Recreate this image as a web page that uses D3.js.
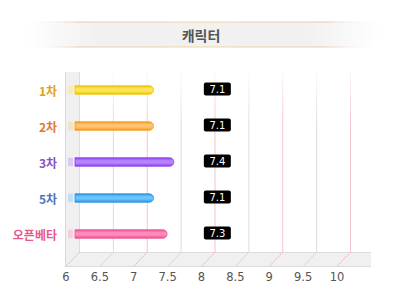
<!DOCTYPE html>
<html><head><meta charset="utf-8">
<script src="https://cdn.jsdelivr.net/npm/d3@7"></script>
<style>
html,body{margin:0;padding:0;background:#fff;}
svg{display:block;}
</style></head>
<body>
<script>
const title = "캐릭터";
const categories = ["1차", "2차", "3차", "5차", "오픈베타"];
const values = [7.1, 7.1, 7.4, 7.1, 7.3];
const valueLabels = ["7.1", "7.1", "7.4", "7.1", "7.3"];
const tickValues = [6, 6.5, 7, 7.5, 8, 8.5, 9, 9.5, 10];
const tickLabels = ["6", "6.5", "7", "7.5", "8", "8.5", "9", "9.5", "10"];
const labelColors = ["#e2a012", "#e07a32", "#8a52c2", "#5272b8", "#e8588e"];
const barDark = ["#f0c400", "#f59a1e", "#8c40ee", "#2a94e4", "#ee5090"];
const barLight = ["#ffe55a", "#ffc470", "#b784ff", "#6cc4ff", "#ff8cbc"];

const W = 400, H = 299;
const svg = d3.select("body").append("svg").attr("width", W).attr("height", H);
const defs = svg.append("defs");

// geometry
const depthX = 13, depthY = 14;
const floorFront = 266, floorBack = floorFront - depthY;
const wallTop = 72;
const xFront = d3.scaleLinear().domain([6, 10]).range([66, 337]);
const xBack = v => xFront(v) + depthX;
const y = d3.scaleBand().domain(categories).range([wallTop, floorBack]);
const yc = c => y(c) + y.bandwidth() / 2;

// ---- title band ----
const tg = defs.append("linearGradient").attr("id", "tband");
[[0, "#fff"], [0.2, "#f1f1f1"], [0.8, "#f1f1f1"], [1, "#fff"]].forEach(s =>
  tg.append("stop").attr("offset", s[0]).attr("stop-color", s[1]));
const tl = defs.append("linearGradient").attr("id", "tline");
[[0, "#fff", 0], [0.15, "#ecc8b8", 1], [0.5, "#f2d69c", 1], [0.85, "#ecc8b8", 1], [1, "#fff", 0]].forEach(s =>
  tl.append("stop").attr("offset", s[0]).attr("stop-color", s[1]).attr("stop-opacity", s[2]));
svg.append("rect").attr("x", 25).attr("y", 22).attr("width", 355).attr("height", 25).attr("fill", "url(#tband)");
svg.append("rect").attr("x", 25).attr("y", 21.5).attr("width", 355).attr("height", 1).attr("fill", "url(#tline)");
svg.append("rect").attr("x", 25).attr("y", 46.5).attr("width", 355).attr("height", 1).attr("fill", "url(#tline)");
svg.append("text").attr("x", 201).attr("y", 35).attr("text-anchor", "middle").attr("dominant-baseline", "central")
  .attr("font-family", "'Noto Sans CJK KR', sans-serif").attr("font-weight", "bold").attr("font-size", 14)
  .attr("fill", "#555").text(title);

// ---- walls ----
svg.append("rect").attr("x", xFront(6)).attr("y", floorBack).attr("width", 305).attr("height", depthY).attr("fill", "#f0f0f0");
svg.append("line").attr("x1", xBack(6)).attr("x2", xFront(6) + 305).attr("y1", floorBack + 0.5).attr("y2", floorBack + 0.5).attr("stroke", "#dcdcdc");
svg.append("line").attr("x1", xFront(6)).attr("x2", xFront(6) + 305).attr("y1", floorFront + 0.5).attr("y2", floorFront + 0.5).attr("stroke", "#dcdcdc");
svg.append("rect").attr("x", xFront(6) - 1).attr("y", wallTop).attr("width", depthX + 1).attr("height", floorFront - wallTop).attr("fill", "#f0f0f0");
svg.append("line").attr("x1", xFront(6) - 0.5).attr("x2", xFront(6) - 0.5).attr("y1", wallTop).attr("y2", floorFront + 1).attr("stroke", "#d6d6d6");
svg.append("line").attr("x1", xBack(6) + 0.5).attr("x2", xBack(6) + 0.5).attr("y1", wallTop).attr("y2", floorBack).attr("stroke", "#dcdcdc");

function vgrad(id, col) {
  const g = defs.append("linearGradient").attr("id", id).attr("x1", 0).attr("x2", 0)
    .attr("gradientUnits", "userSpaceOnUse").attr("y1", wallTop).attr("y2", floorBack);
  g.append("stop").attr("offset", 0).attr("stop-color", col).attr("stop-opacity", 0.15);
  g.append("stop").attr("offset", 0.3).attr("stop-color", col).attr("stop-opacity", 1);
  g.append("stop").attr("offset", 1).attr("stop-color", col).attr("stop-opacity", 1);
}
vgrad("gpink", "#f2c4cc");
vgrad("ggray", "#dddddd");
const isInt = v => Number.isInteger(v);
const gridVals = tickValues.filter(v => v > 6);
svg.append("g").selectAll("line").data(gridVals).join("line")
  .attr("x1", d => xBack(d) + 0.5).attr("x2", d => xBack(d) + 0.5)
  .attr("y1", wallTop).attr("y2", floorBack)
  .attr("stroke", d => isInt(d) ? "url(#gpink)" : "url(#ggray)").attr("stroke-width", 1);
svg.append("g").selectAll("line").data(tickValues).join("line")
  .attr("x1", d => xFront(d) + 0.5).attr("y1", floorFront)
  .attr("x2", d => xBack(d) + 0.5).attr("y2", floorBack)
  .attr("stroke", d => isInt(d) ? "#eca8b4" : "#d8d8d8")
  .attr("stroke-dasharray", d => isInt(d) ? "1.5,1" : null);

svg.append("g").selectAll("text").data(tickValues).join("text")
  .attr("x", d => xFront(d)).attr("y", 281)
  .attr("text-anchor", "middle")
  .attr("font-family", "'DejaVu Sans', sans-serif").attr("font-size", 11.5)
  .attr("fill", "#555").text((d, i) => tickLabels[i]);

// ---- bars ----
categories.forEach((c, i) => {
  const g = defs.append("linearGradient").attr("id", "bar" + i).attr("x1", 0).attr("y1", 0).attr("x2", 0).attr("y2", 1);
  g.append("stop").attr("offset", 0).attr("stop-color", barDark[i]);
  g.append("stop").attr("offset", 0.35).attr("stop-color", barLight[i]);
  g.append("stop").attr("offset", 0.6).attr("stop-color", barLight[i]);
  g.append("stop").attr("offset", 1).attr("stop-color", barDark[i]);
});
const bh = 8.5, r = 4.2;
const barStart = xBack(6) - 4;
const bars = svg.append("g");
bars.selectAll("rect.stub").data(categories).join("rect").attr("class", "stub")
  .attr("x", xFront(6) + 2).attr("y", c => yc(c) - bh / 2).attr("width", 5).attr("height", bh)
  .attr("fill", (c, i) => barLight[i]).attr("opacity", 0.35);
bars.selectAll("path.bar").data(categories).join("path").attr("class", "bar")
  .attr("d", (c, i) => {
    const x0 = barStart, x1 = xBack(values[i]), y0 = yc(c) - bh / 2, y1 = yc(c) + bh / 2;
    return `M${x0},${y0}H${x1 - r}A${r},${r} 0 0 1 ${x1},${y0 + r}V${y1 - r}A${r},${r} 0 0 1 ${x1 - r},${y1}H${x0}Z`;
  })
  .attr("fill", (c, i) => "url(#bar" + i + ")")
  .attr("stroke", (c, i) => barDark[i]).attr("stroke-width", 0.8);

svg.append("g").selectAll("text").data(categories).join("text")
  .attr("x", 57).attr("y", c => yc(c)).attr("text-anchor", "end").attr("dominant-baseline", "central")
  .attr("font-family", "'Noto Sans CJK KR', sans-serif").attr("font-weight", "bold").attr("font-size", 12)
  .attr("fill", (c, i) => labelColors[i]).text(c => c);

// value labels
const labelCenter = xBack(7.85) + 13;
const vl = svg.append("g").selectAll("g").data(categories).join("g")
  .attr("transform", c => `translate(${labelCenter},${yc(c) - 1})`);
vl.append("rect").attr("x", -13.5).attr("y", -6.5).attr("width", 27).attr("height", 13).attr("rx", 2).attr("fill", "#000");
vl.append("text").attr("text-anchor", "middle").attr("dominant-baseline", "central").attr("y", 0.5)
  .attr("font-family", "'DejaVu Sans', sans-serif").attr("font-size", 10).attr("fill", "#fff")
  .text((c, i) => valueLabels[i]);
</script>
</body></html>
